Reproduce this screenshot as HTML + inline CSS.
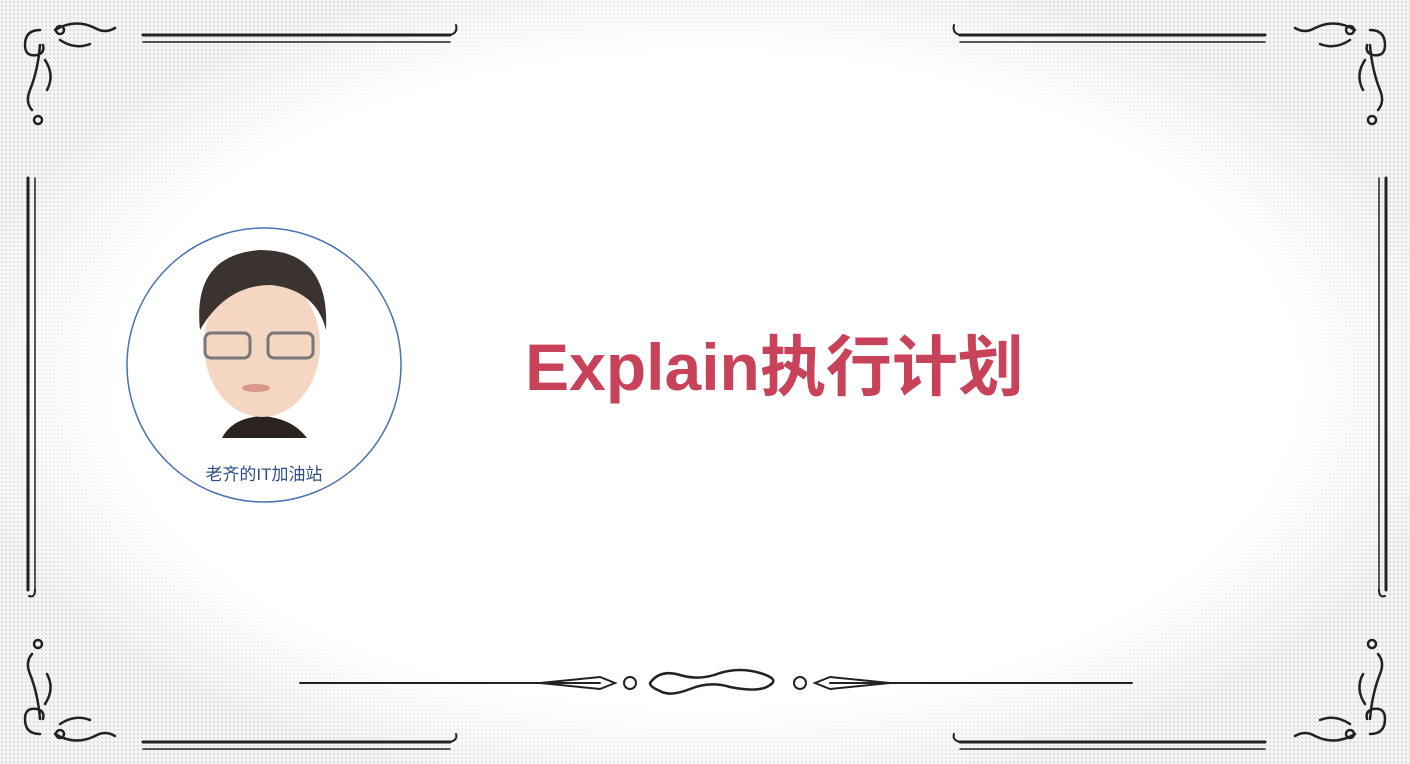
<!DOCTYPE html>
<html><head><meta charset="utf-8"><style>
html,body{margin:0;padding:0;}
body{width:1410px;height:764px;position:relative;overflow:hidden;
background:radial-gradient(ellipse 760px 420px at 705px 380px,#fff 78%,rgba(255,255,255,0) 100%),
radial-gradient(circle,#d8d8d8 0.8px,transparent 1.1px) 0 0/4px 4px,#f4f4f4;
font-family:"Liberation Sans","Noto Sans CJK SC",sans-serif;}
.title{position:absolute;left:507px;top:324px;width:535px;text-align:center;font-size:66px;font-weight:bold;color:#c8435a;line-height:86px;white-space:nowrap;}
.cap{position:absolute;left:164px;top:460px;width:200px;text-align:center;font-size:17px;color:#2d4f86;}
svg{position:absolute;left:0;top:0;}
</style></head><body>
<svg width="1410" height="764">
<g stroke="#222" fill="none" stroke-linecap="round">
<line x1="143" y1="35" x2="450" y2="35" stroke-width="3"/>
<line x1="143" y1="42" x2="450" y2="42" stroke-width="1.5"/>
<path d="M450 35 q8 -2 6 -10" stroke-width="2"/>
<line x1="960" y1="35" x2="1265" y2="35" stroke-width="3"/>
<line x1="960" y1="42" x2="1265" y2="42" stroke-width="1.5"/>
<path d="M960 35 q-8 -2 -6 -10" stroke-width="2"/>
<line x1="143" y1="742" x2="450" y2="742" stroke-width="3"/>
<line x1="143" y1="749" x2="450" y2="749" stroke-width="1.5"/>
<path d="M450 742 q8 -2 6 -8" stroke-width="2"/>
<line x1="960" y1="742" x2="1265" y2="742" stroke-width="3"/>
<line x1="960" y1="749" x2="1265" y2="749" stroke-width="1.5"/>
<path d="M960 742 q-8 -2 -6 -8" stroke-width="2"/>
<line x1="28" y1="178" x2="28" y2="590" stroke-width="3"/>
<line x1="35" y1="178" x2="35" y2="590" stroke-width="1.5"/>
<path d="M35 590 q0 8 -6 6" stroke-width="2"/>
<line x1="1386" y1="178" x2="1386" y2="590" stroke-width="3"/>
<line x1="1379" y1="178" x2="1379" y2="590" stroke-width="1.5"/>
<path d="M1379 590 q0 8 6 6" stroke-width="2"/>
<line x1="300" y1="683" x2="600" y2="683" stroke-width="2"/>
<line x1="830" y1="683" x2="1132" y2="683" stroke-width="2"/>
<path d="M540 683 L600 677 L615 683 L600 689 Z M890 683 L830 677 L815 683 L830 689 Z" stroke-width="2"/>
<circle cx="630" cy="683" r="6" stroke-width="2"/><circle cx="800" cy="683" r="6" stroke-width="2"/>
<path d="M650 683 q10 -14 30 -8 q20 6 40 -2 q20 -6 40 0 q20 6 10 12 q-10 8 -40 2 q-20 -6 -40 2 q-20 8 -30 2 q-10 -4 -10 -8" stroke-width="2.5"/>
<g id="corner" stroke-width="2.5">
<path d="M40 30 q-15 0 -15 15 q0 12 12 10 q8 -2 6 -10"/>
<path d="M55 30 q20 -12 40 -2 q10 6 20 0"/>
<path d="M40 45 q-2 25 -10 45 q-5 12 2 20"/>
<path d="M60 40 q15 10 30 4 M45 60 q10 15 2 30"/>
<circle cx="60" cy="30" r="4"/><circle cx="38" cy="120" r="4"/>
</g>
<use href="#corner" transform="translate(1410,0) scale(-1,1)"/>
<use href="#corner" transform="translate(0,764) scale(1,-1)"/>
<use href="#corner" transform="translate(1410,764) scale(-1,-1)"/>
</g>
<circle cx="264" cy="365" r="137" fill="#fff" stroke="#4a72b0" stroke-width="1.5"/>
<g>
<path d="M222 438 q10 -20 40 -22 q30 2 45 22 Z" fill="#2a2320"/>
<ellipse cx="262" cy="345" rx="58" ry="72" fill="#f4d6c2"/>
<path d="M200 330 q-8 -75 60 -80 q70 0 66 80 q-10 -40 -55 -45 q-45 0 -71 45 Z" fill="#3b3330"/>
<rect x="205" y="333" width="45" height="25" rx="6" fill="none" stroke="#777" stroke-width="3"/>
<rect x="268" y="333" width="45" height="25" rx="6" fill="none" stroke="#777" stroke-width="3"/>
<ellipse cx="256" cy="388" rx="14" ry="4" fill="#d99a8a"/>
</g>
</svg>
<div class="cap">老齐的IT加油站</div>
<div class="title">Explain执行计划</div>
</body></html>
